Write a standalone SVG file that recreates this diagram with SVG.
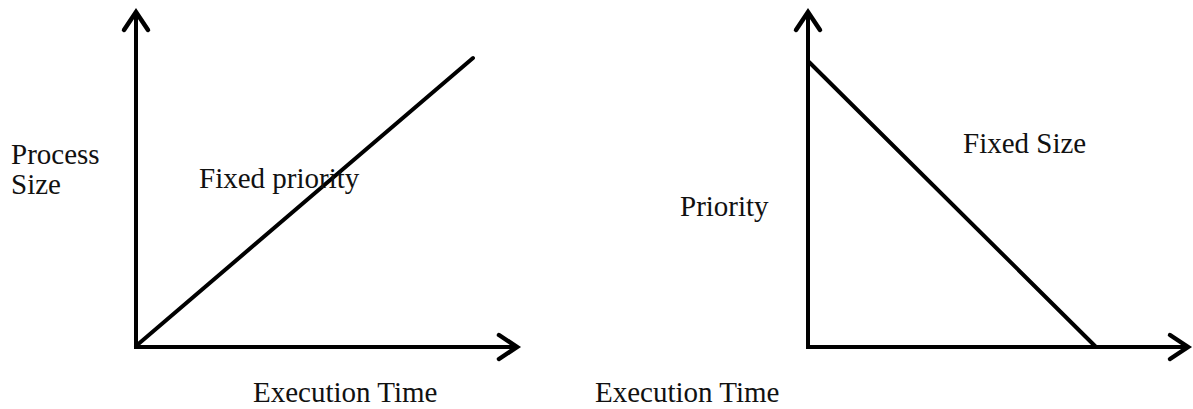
<svg xmlns="http://www.w3.org/2000/svg" width="1193" height="409" viewBox="0 0 1193 409">
<style>
.ax{stroke:#000;stroke-width:4;fill:none;stroke-linecap:butt}
.dg{stroke:#000;stroke-width:4;fill:none;stroke-linecap:round}
.t{font-family:"Liberation Serif","Times New Roman",serif;font-size:29px;fill:#111}
</style>
<defs>
<marker id="arr" markerUnits="userSpaceOnUse" viewBox="-24 -16 28 32" refX="0" refY="0" markerWidth="28" markerHeight="32" orient="auto" overflow="visible">
<path d="M-18,-12 L0,0 L-18,12" fill="none" stroke="#000" stroke-width="4.5" stroke-linejoin="miter" stroke-linecap="round"/>
</marker>
</defs>
<g id="connectors">
<line class="ax" x1="136" y1="347" x2="136" y2="12" marker-end="url(#arr)"/>
<line class="ax" x1="134" y1="347" x2="517" y2="347" marker-end="url(#arr)"/>
<line class="dg" x1="136" y1="346" x2="473" y2="58"/>
<line class="ax" x1="808" y1="349" x2="808" y2="12" marker-end="url(#arr)"/>
<line class="ax" x1="806" y1="347" x2="1188" y2="347" marker-end="url(#arr)"/>
<line class="dg" x1="809" y1="62" x2="1096" y2="347"/>
</g>
<g id="label-process-size">
<text class="t" x="11" y="164">Process</text>
<text class="t" x="11" y="194">Size</text>
</g>
<g id="label-fixed-priority"><text class="t" x="199" y="188">Fixed priority</text></g>
<g id="label-exec-left"><text class="t" x="253" y="402">Execution Time</text></g>
<g id="label-priority"><text class="t" x="680" y="216">Priority</text></g>
<g id="label-fixed-size"><text class="t" x="963" y="153">Fixed Size</text></g>
<g id="label-exec-right"><text class="t" x="595" y="402">Execution Time</text></g>
</svg>
